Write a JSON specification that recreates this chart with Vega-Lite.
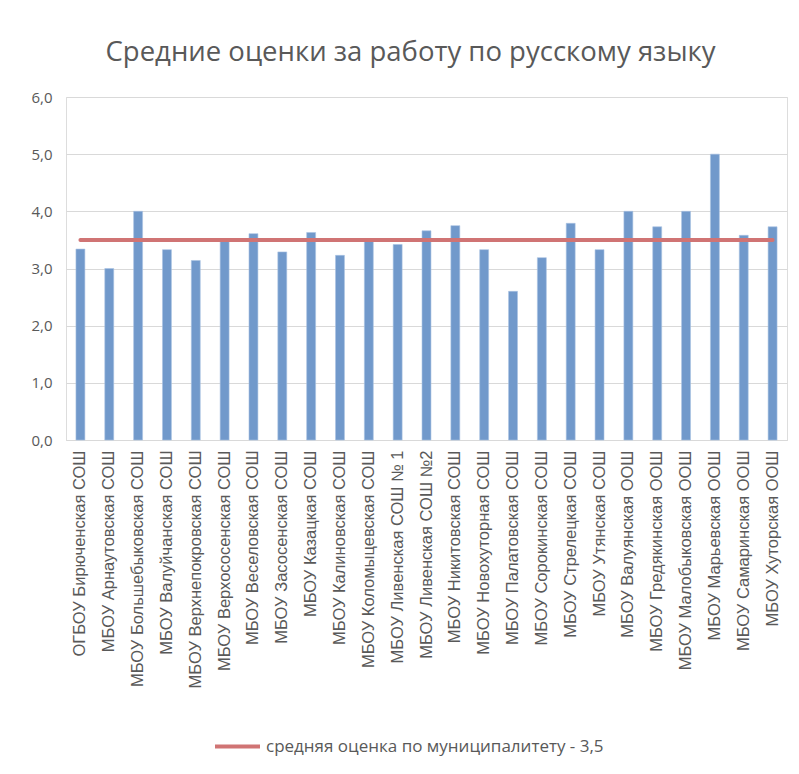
{
  "$schema": "https://vega.github.io/schema/vega-lite/v6.json",
  "autosize": {"type": "none"},
  "width": 721,
  "height": 343,
  "padding": {"left": 66, "top": 97, "right": 12, "bottom": 334},
  "background": "white",
  "title": {
    "text": "Средние оценки за работу по русскому языку",
    "font": "Open Sans",
    "fontSize": 27.5,
    "fontWeight": "normal",
    "color": "#595959",
    "anchor": "middle",
    "offset": 24,
    "dx": -16
  },
  "data": {
    "values": [
      {"school": "ОГБОУ Бирюченская СОШ", "score": 3.34},
      {"school": "МБОУ Арнаутовская СОШ", "score": 3.0},
      {"school": "МБОУ Большебыковская СОШ", "score": 4.0},
      {"school": "МБОУ Валуйчанская СОШ", "score": 3.33},
      {"school": "МБОУ Верхнепокровская СОШ", "score": 3.14},
      {"school": "МБОУ Верхососенская СОШ", "score": 3.48},
      {"school": "МБОУ Веселовская СОШ", "score": 3.61},
      {"school": "МБОУ Засосенская СОШ", "score": 3.29},
      {"school": "МБОУ Казацкая СОШ", "score": 3.63},
      {"school": "МБОУ Калиновская СОШ", "score": 3.23},
      {"school": "МБОУ Коломыцевская СОШ", "score": 3.48},
      {"school": "МБОУ Ливенская СОШ № 1", "score": 3.42},
      {"school": "МБОУ Ливенская СОШ №2", "score": 3.66},
      {"school": "МБОУ Никитовская СОШ", "score": 3.75},
      {"school": "МБОУ Новохуторная СОШ", "score": 3.33},
      {"school": "МБОУ Палатовская СОШ", "score": 2.6},
      {"school": "МБОУ Сорокинская СОШ", "score": 3.19},
      {"school": "МБОУ Стрелецкая СОШ", "score": 3.79},
      {"school": "МБОУ Утянская СОШ", "score": 3.33},
      {"school": "МБОУ Валуянская ООШ", "score": 4.0},
      {"school": "МБОУ Гредякинская ООШ", "score": 3.73},
      {"school": "МБОУ Малобыковская ООШ", "score": 4.0},
      {"school": "МБОУ Марьевская ООШ", "score": 5.0},
      {"school": "МБОУ Самаринская ООШ", "score": 3.58},
      {"school": "МБОУ Хуторская ООШ", "score": 3.73}
    ]
  },
  "encoding": {
    "x": {
      "field": "school",
      "type": "nominal",
      "sort": null,
      "scale": {"paddingInner": 0.69, "paddingOuter": 0.345},
      "axis": {
        "title": null,
        "labelAngle": -90,
        "labelFont": "Liberation Sans",
        "labelFontSize": 16.5,
        "labelColor": "#595959",
        "labelPadding": 10,
        "labelLimit": 400,
        "ticks": false,
        "domainColor": "#D9D9D9",
        "domainWidth": 1,
        "grid": false
      }
    }
  },
  "layer": [
    {
      "mark": {"type": "bar", "color": "#7199CB", "stroke": "#A9C2E2", "strokeWidth": 0.6},
      "encoding": {
        "y": {
          "field": "score",
          "type": "quantitative",
          "scale": {"domain": [0, 6], "nice": false},
          "axis": {
            "title": null,
            "values": [0, 1, 2, 3, 4, 5, 6],
            "labelExpr": "replace(format(datum.value, '.1f'), '.', ',')",
            "labelFont": "Open Sans",
            "labelFontSize": 15,
            "labelColor": "#595959",
            "labelPadding": 14,
            "ticks": false,
            "domain": false,
            "gridColor": "#D9D9D9",
            "gridWidth": 1
          }
        }
      }
    },
    {
      "mark": {"type": "line", "strokeWidth": 4, "strokeCap": "round"},
      "encoding": {
        "y": {"datum": 3.5, "type": "quantitative"},
        "color": {
          "datum": "средняя оценка по муниципалитету - 3,5",
          "type": "nominal",
          "scale": {"range": ["#D07474"]},
          "legend": {
            "title": null,
            "orient": "none",
            "legendX": 147,
            "legendY": 625,
            "symbolType": "stroke",
            "symbolSize": 2025,
            "symbolStrokeWidth": 4,
            "labelFont": "Open Sans",
            "labelFontSize": 17,
            "labelColor": "#595959",
            "labelLimit": 500,
            "labelOffset": 4
          }
        }
      }
    }
  ]
}
